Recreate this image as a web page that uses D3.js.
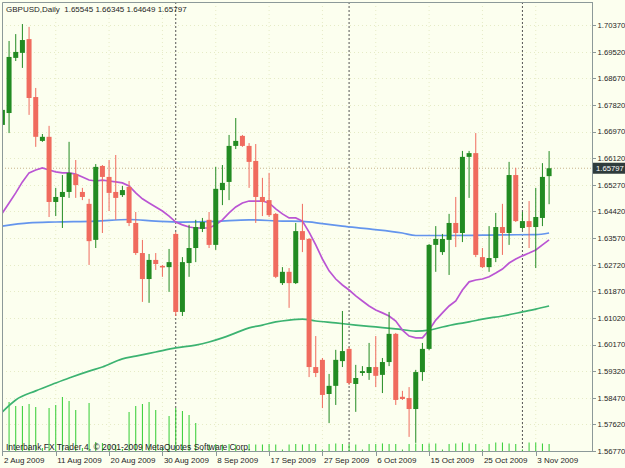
<!DOCTYPE html>
<html>
<head>
<script src="https://d3js.org/d3.v7.min.js"></script>
<style>
    body { margin: 0; background: #fcffef; }
    svg text { font: 8px "Liberation Sans", Arial, sans-serif; fill: #1e1e1e; }
    .yaxis text { font-size: 7.7px; }
    .axis path, .axis line { stroke: #8c9999; shape-rendering: crispEdges; }
</style>
</head>
<body>
<svg width="625" height="468"></svg>
<script>
// GBPUSD daily bars, 2 Aug 2009 .. 5 Nov 2009
var open = [1.6718,1.6756,1.6932,1.6948,1.6992,1.6807,1.6667,1.6680,1.6472,1.6488,
    1.6504,1.6561,1.6504,1.6466,1.6351,1.6587,1.6552,1.6504,1.6494,1.6520,
    1.6405,1.6309,1.6226,1.6287,1.6268,1.6264,1.6370,1.6121,1.6277,1.6325,
    1.6386,1.6415,1.6335,1.6510,1.6536,1.6651,1.6683,1.6651,1.6603,1.6488,
    1.6478,1.6434,1.6213,1.6249,1.6213,1.6379,1.6354,1.5945,1.5968,1.5859,
    1.5885,1.5964,1.6003,1.5891,1.5926,1.5926,1.5945,1.5920,1.5961,1.6051,
    1.5850,1.5846,1.5811,1.5929,1.6003,1.6335,1.6312,1.6351,1.6405,1.6373,
    1.6616,1.6628,1.6296,1.6264,1.6293,1.6392,1.6373,1.6558,1.6389,1.6411,
    1.6392,1.6421,1.65545];
var high = [1.6775,1.6986,1.7008,1.7040,1.7031,1.6836,1.6689,1.6715,1.6517,1.6558,
    1.6664,1.6606,1.6517,1.6482,1.6593,1.6590,1.6606,1.6622,1.6523,1.6539,
    1.6440,1.6351,1.6306,1.6309,1.6271,1.6322,1.6376,1.6296,1.6399,1.6415,
    1.6421,1.6440,1.6584,1.6590,1.6686,1.6740,1.6686,1.6660,1.6657,1.6549,
    1.6565,1.6437,1.6264,1.6261,1.6405,1.6466,1.6357,1.6044,1.5974,1.5923,
    1.6000,1.6124,1.6009,1.5952,1.5948,1.6022,1.6044,1.5974,1.6121,1.6054,
    1.5869,1.5881,1.5936,1.6022,1.6338,1.6395,1.6370,1.6434,1.6488,1.6635,
    1.6635,1.6692,1.6325,1.6395,1.6437,1.6466,1.6600,1.6581,1.6440,1.6475,
    1.6517,1.6596,1.66345];
var low = [1.6692,1.6692,1.6922,1.6900,1.6750,1.6648,1.6664,1.6424,1.6427,1.6389,
    1.6485,1.6485,1.6478,1.6271,1.6325,1.6373,1.6443,1.6415,1.6488,1.6395,
    1.6303,1.6153,1.6150,1.6255,1.6233,1.6185,1.6108,1.6108,1.6233,1.6280,
    1.6376,1.6325,1.6319,1.6462,1.6478,1.6641,1.6648,1.6517,1.6405,1.6427,
    1.6424,1.6229,1.6207,1.6134,1.6210,1.6312,1.5913,1.5913,1.5814,1.5766,
    1.5824,1.5945,1.5888,1.5802,1.5917,1.5904,1.5881,1.5862,1.5948,1.5824,
    1.5840,1.5722,1.5703,1.5901,1.5999,1.6249,1.6303,1.6239,1.6328,1.6344,
    1.6485,1.6296,1.6261,1.6249,1.6280,1.6303,1.6335,1.6408,1.6383,1.6325,
    1.6261,1.6395,1.64649];
var close = [1.6766,1.6935,1.6951,1.6989,1.6804,1.6680,1.6680,1.6472,1.6488,1.6504,
    1.6565,1.6526,1.6488,1.6347,1.6584,1.6552,1.6501,1.6485,1.6510,1.6405,
    1.6309,1.6226,1.6287,1.6274,1.6263,1.6280,1.6121,1.6280,1.6325,1.6392,
    1.6408,1.6335,1.6514,1.6533,1.6651,1.6667,1.6651,1.6600,1.6488,1.6472,
    1.6430,1.6233,1.6249,1.6213,1.6379,1.6351,1.5945,1.5926,1.5856,1.5885,
    1.5968,1.5996,1.5894,1.5910,1.5932,1.5945,1.5917,1.5961,1.6051,1.5840,
    1.5843,1.5811,1.5929,1.6003,1.6335,1.6354,1.6354,1.6405,1.6373,1.6616,
    1.6628,1.6303,1.6264,1.6293,1.6392,1.6373,1.6558,1.6411,1.6411,1.6392,
    1.6424,1.6552,1.65797];
var volume = [150,4900,4500,4500,4700,4400,300,4300,4600,5400,
    5000,4100,300,4800,900,800,600,600,200,3900,
    4500,4700,4900,4100,300,3500,4300,4000,3600,2800,
    150,650,700,650,700,650,150,700,650,650,
    700,650,150,650,700,650,700,700,150,700,
    750,700,700,650,150,700,700,750,700,700,
    150,700,750,700,750,750,150,700,750,850,
    750,700,150,700,850,850,750,700,150,850,
    850,750,700];

// moving averages as they appear on the chart
var maPurple = [1.6437,1.6469,1.6501,1.6536,1.6565,1.6574,1.6581,1.6574,1.6568,1.6565,
    1.6565,1.6561,1.6552,1.6542,1.6539,1.6542,1.6539,1.6536,1.6533,1.6523,
    1.6501,1.6482,1.6469,1.6456,1.6443,1.6427,1.6408,1.6399,1.6392,1.6389,
    1.6389,1.6389,1.6399,1.6415,1.6437,1.6456,1.6469,1.6475,1.6475,1.6475,
    1.6469,1.6450,1.6434,1.6421,1.6421,1.6411,1.6376,1.6335,1.6290,1.6252,
    1.6226,1.6207,1.6191,1.6172,1.6156,1.6140,1.6127,1.6118,1.6108,1.6092,
    1.6063,1.6044,1.6038,1.6038,1.6063,1.6095,1.6118,1.6140,1.6156,1.6191,
    1.6217,1.6223,1.6226,1.6233,1.6245,1.6258,1.6277,1.6290,1.6300,1.6309,
    1.6319,1.6335,1.6351];
var maBlueIdx = [0,4,8,14,19,23,27,32,37,42,45,48,51,55,60,62,67,75,80,82];
var maBlue = [1.6395,1.6405,1.6408,1.6411,1.6416,1.6411,1.6408,1.6410,1.6415,1.6411,
    1.6410,1.6403,1.6395,1.6386,1.6373,1.6365,1.6365,1.6367,1.6368,1.6373];
var maGreenIdx = [0,2,5,8,10,13,15,18,20,23,26,29,31,33,35,37,39,41,43,45,47,50,53,56,59,62,64,66,68,70,72,75,78,80,82];
var maGreen = [1.5802,1.5840,1.5869,1.5894,1.5910,1.5932,1.5945,1.5971,1.5980,1.5993,
    1.6006,1.6015,1.6025,1.6038,1.6054,1.6070,1.6079,1.6089,1.6095,1.6098,
    1.6092,1.6086,1.6079,1.6073,1.6067,1.6060,1.6063,1.6073,1.6082,1.6089,
    1.6098,1.6108,1.6121,1.6130,1.6140];

var priceTicks = [1.70370,1.69520,1.68670,1.67820,1.66970,1.66120,1.65270,1.64420,1.63570,
    1.62720,1.61870,1.61020,1.60170,1.59320,1.58470,1.57620,1.56770];
var dateTickIdx = [0,8,16,24,32,40,48,56,64,72,80];
var dateTickLabels = ["2 Aug 2009","11 Aug 2009","20 Aug 2009","30 Aug 2009","8 Sep 2009",
    "17 Sep 2009","27 Sep 2009","6 Oct 2009","15 Oct 2009","25 Oct 2009","3 Nov 2009"];
var monthSepIdx = [26, 52, 78];   // 1 Sep, 1 Oct, 1 Nov

var svg = d3.select("svg");
var plotL = 2, plotR = 592, plotT = 2, plotB = 451;

var x = d3.scaleLinear().domain([0, 82]).range([2.4, 2.4 + 82 * 6.667]);
var y = d3.scaleLinear().domain([1.56770, 1.70370]).range([451, 25]);
var v = d3.scaleLinear().domain([0, 6000]).range([plotB, plotB - 60]);

svg.append("rect").attr("width", 625).attr("height", 468).attr("fill", "#fcffef");

svg.append("defs").append("clipPath").attr("id", "plot")
    .append("rect").attr("x", plotL).attr("y", plotT)
    .attr("width", plotR - plotL).attr("height", plotB - plotT);

var g = svg.append("g").attr("clip-path", "url(#plot)");

// faint dotted grid
g.selectAll(".hgrid").data(priceTicks).enter().append("line")
    .attr("x1", plotL).attr("x2", plotR)
    .attr("y1", function(d) { return Math.round(y(d)) + 0.5; })
    .attr("y2", function(d) { return Math.round(y(d)) + 0.5; })
    .attr("stroke", "#e6ebc6").attr("stroke-dasharray", "1,3");
g.selectAll(".vgrid").data(dateTickIdx).enter().append("line")
    .attr("x1", function(d) { return x(d); }).attr("x2", function(d) { return x(d); })
    .attr("y1", plotT).attr("y2", plotB)
    .attr("stroke", "#e6ebc6").attr("stroke-dasharray", "1,3");

// month separators
g.selectAll(".sep").data(monthSepIdx).enter().append("line")
    .attr("x1", function(d) { return x(d); }).attr("x2", function(d) { return x(d); })
    .attr("y1", plotT).attr("y2", plotB)
    .attr("stroke", "#555").attr("stroke-dasharray", "2,2");

// volumes
g.selectAll(".vol").data(volume).enter().append("line")
    .attr("x1", function(d, i) { return x(i); }).attr("x2", function(d, i) { return x(i); })
    .attr("y1", plotB).attr("y2", function(d) { return v(d); })
    .attr("stroke", "#32cd32").attr("stroke-width", 1);

// current price line
g.append("line")
    .attr("x1", plotL).attr("x2", plotR)
    .attr("y1", y(close[82])).attr("y2", y(close[82]))
    .attr("stroke", "#c8b48c").attr("stroke-dasharray", "1,2");

// moving averages
var idxLine = d3.line()
    .x(function(d) { return x(d[0]); })
    .y(function(d) { return y(d[1]); });

g.append("path")
    .attr("d", idxLine.curve(d3.curveMonotoneX)(maGreenIdx.map(function(d, i) { return [d, maGreen[i]]; })))
    .attr("fill", "none").attr("stroke", "#3cb371").attr("stroke-width", 1.7);
g.append("path")
    .attr("d", idxLine.curve(d3.curveMonotoneX)(maBlueIdx.map(function(d, i) { return [d, maBlue[i]]; })))
    .attr("fill", "none").attr("stroke", "#6495ed").attr("stroke-width", 1.7);
g.append("path")
    .attr("d", idxLine.curve(d3.curveLinear)(maPurple.map(function(d, i) { return [i, d]; })))
    .attr("fill", "none").attr("stroke", "#ba55d3").attr("stroke-width", 1.7);

// candles
var bull = "#228b22", bear = "#f06b5e";
var candle = g.selectAll(".candle").data(open).enter().append("g");

candle.append("line")
    .attr("x1", function(d, i) { return x(i); }).attr("x2", function(d, i) { return x(i); })
    .attr("y1", function(d, i) { return y(high[i]); })
    .attr("y2", function(d, i) { return y(low[i]); })
    .attr("stroke", function(d, i) { return close[i] >= d ? bull : bear; })
    .attr("stroke-width", 1);

candle.append("rect")
    .attr("x", function(d, i) { return x(i) - 2.5; })
    .attr("width", 5)
    .attr("y", function(d, i) { return y(Math.max(d, close[i])); })
    .attr("height", function(d, i) { return Math.max(1, Math.abs(y(d) - y(close[i]))); })
    .attr("fill", function(d, i) { return close[i] >= d ? bull : bear; });

// frame
svg.append("path")
    .attr("d", "M" + (plotL + 0.5) + "," + plotB + "V" + (plotT + 0.5) + "H" + plotR)
    .attr("fill", "none").attr("stroke", "#8c9999");

// price axis
var yAxis = svg.append("g").attr("class", "axis yaxis")
    .attr("transform", "translate(" + (plotR + 0.5) + ",0)")
    .call(d3.axisRight(y).tickValues(priceTicks).tickFormat(d3.format(".5f"))
        .tickSize(3).tickPadding(2).tickSizeOuter(0));
yAxis.select(".domain").attr("d", "M0," + plotT + "V" + (plotB + 0.5));

// date axis
var xAxis = svg.append("g").attr("class", "axis")
    .attr("transform", "translate(0," + (plotB + 0.5) + ")")
    .call(d3.axisBottom(x).tickValues(dateTickIdx)
        .tickFormat(function(d, i) { return dateTickLabels[i]; })
        .tickSize(4).tickSizeOuter(0));
xAxis.select(".domain").attr("d", "M" + plotL + ",0H" + plotR);
xAxis.selectAll("text").attr("text-anchor", "start").attr("dx", "1").attr("y", 6).attr("dy", "0.71em");

// current price box
var cy = y(close[82]);
svg.append("rect").attr("x", plotR + 1).attr("y", cy - 5.5).attr("width", 625 - plotR).attr("height", 11)
    .attr("fill", "#2f3c3c");
svg.append("text").attr("x", 596).attr("y", cy + 3)
    .style("fill", "#fff").style("font-size", "7.7px").text(d3.format(".5f")(close[82]));

// title and footer
svg.append("text").attr("x", 6).attr("y", 12).style("white-space", "pre")
    .text("GBPUSD,Daily  " + [open[82], high[82], low[82], close[82]].map(d3.format(".5f")).join(" "));
svg.append("text").attr("x", 6).attr("y", 450).style("font-size", "8.5px")
    .text("Interbank FX Trader 4, \u00a9 2001-2009 MetaQuotes Software Corp.");
</script>
</body>
</html>
